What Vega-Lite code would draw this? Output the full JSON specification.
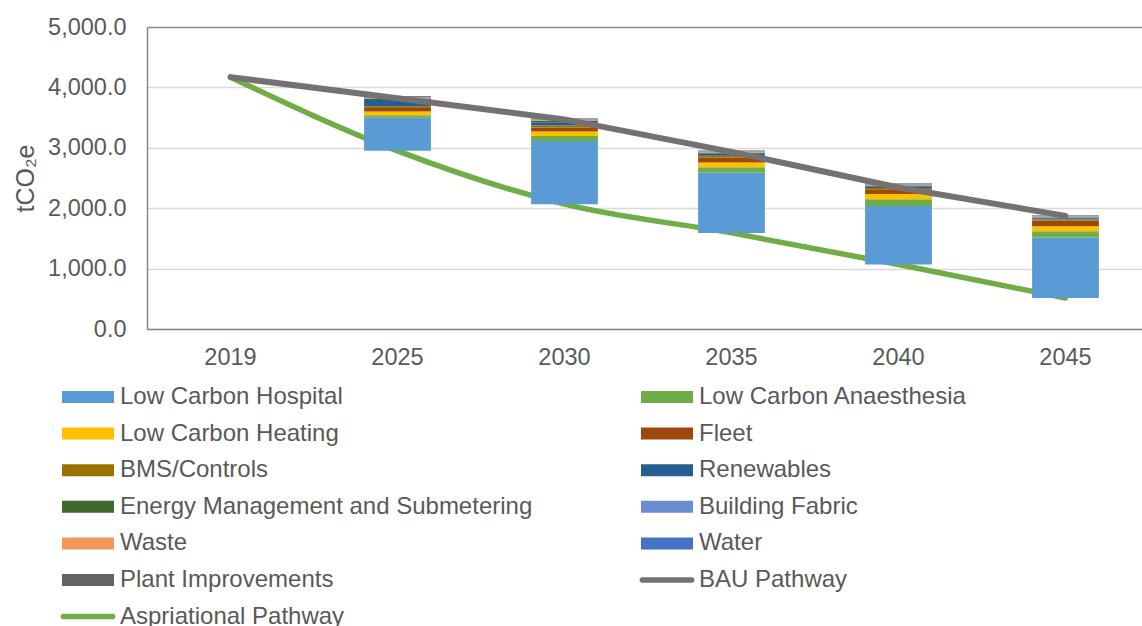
{
  "$schema": "https://vega.github.io/schema/vega-lite/v6.json",
  "autosize": {"type": "none"},
  "padding": {"left": 147, "top": 27, "right": 0, "bottom": 297},
  "width": 995,
  "height": 302,
  "background": "#ffffff",
  "config": {
    "view": {"stroke": null},
    "font": "Liberation Sans",
    "axis": {
      "labelFont": "Liberation Sans",
      "labelFontSize": 23.5,
      "labelColor": "#595959",
      "titleFont": "Liberation Sans",
      "titleFontSize": 25,
      "titleColor": "#595959",
      "titleFontWeight": "normal",
      "ticks": false,
      "domainColor": "#868686",
      "domainWidth": 1.5
    }
  },
  "datasets": {
    "segments": [
      {"year": "2025", "category": "Base", "value": 2950},
      {"year": "2025", "category": "Low Carbon Hospital", "value": 547},
      {"year": "2025", "category": "Low Carbon Anaesthesia", "value": 40},
      {"year": "2025", "category": "Low Carbon Heating", "value": 66},
      {"year": "2025", "category": "Fleet", "value": 55},
      {"year": "2025", "category": "BMS/Controls", "value": 28},
      {"year": "2025", "category": "Renewables", "value": 105},
      {"year": "2025", "category": "Energy Management and Submetering", "value": 17},
      {"year": "2025", "category": "Building Fabric", "value": 12},
      {"year": "2025", "category": "Waste", "value": 12},
      {"year": "2025", "category": "Water", "value": 12},
      {"year": "2025", "category": "Plant Improvements", "value": 12},
      {"year": "2030", "category": "Base", "value": 2067},
      {"year": "2030", "category": "Low Carbon Hospital", "value": 1044},
      {"year": "2030", "category": "Low Carbon Anaesthesia", "value": 83},
      {"year": "2030", "category": "Low Carbon Heating", "value": 77},
      {"year": "2030", "category": "Fleet", "value": 66},
      {"year": "2030", "category": "BMS/Controls", "value": 33},
      {"year": "2030", "category": "Renewables", "value": 55},
      {"year": "2030", "category": "Energy Management and Submetering", "value": 22},
      {"year": "2030", "category": "Building Fabric", "value": 11},
      {"year": "2030", "category": "Waste", "value": 11},
      {"year": "2030", "category": "Water", "value": 11},
      {"year": "2030", "category": "Plant Improvements", "value": 11},
      {"year": "2035", "category": "Base", "value": 1591},
      {"year": "2035", "category": "Low Carbon Hospital", "value": 1001},
      {"year": "2035", "category": "Low Carbon Anaesthesia", "value": 88},
      {"year": "2035", "category": "Low Carbon Heating", "value": 77},
      {"year": "2035", "category": "Fleet", "value": 77},
      {"year": "2035", "category": "BMS/Controls", "value": 33},
      {"year": "2035", "category": "Renewables", "value": 33},
      {"year": "2035", "category": "Energy Management and Submetering", "value": 17},
      {"year": "2035", "category": "Building Fabric", "value": 10},
      {"year": "2035", "category": "Waste", "value": 10},
      {"year": "2035", "category": "Water", "value": 9},
      {"year": "2035", "category": "Plant Improvements", "value": 10},
      {"year": "2040", "category": "Base", "value": 1067},
      {"year": "2040", "category": "Low Carbon Hospital", "value": 971},
      {"year": "2040", "category": "Low Carbon Anaesthesia", "value": 110},
      {"year": "2040", "category": "Low Carbon Heating", "value": 88},
      {"year": "2040", "category": "Fleet", "value": 77},
      {"year": "2040", "category": "BMS/Controls", "value": 22},
      {"year": "2040", "category": "Renewables", "value": 22},
      {"year": "2040", "category": "Energy Management and Submetering", "value": 11},
      {"year": "2040", "category": "Building Fabric", "value": 11},
      {"year": "2040", "category": "Waste", "value": 15},
      {"year": "2040", "category": "Water", "value": 11},
      {"year": "2040", "category": "Plant Improvements", "value": 10},
      {"year": "2045", "category": "Base", "value": 514},
      {"year": "2045", "category": "Low Carbon Hospital", "value": 1001},
      {"year": "2045", "category": "Low Carbon Anaesthesia", "value": 105},
      {"year": "2045", "category": "Low Carbon Heating", "value": 83},
      {"year": "2045", "category": "Fleet", "value": 88},
      {"year": "2045", "category": "BMS/Controls", "value": 22},
      {"year": "2045", "category": "Renewables", "value": 20},
      {"year": "2045", "category": "Energy Management and Submetering", "value": 10},
      {"year": "2045", "category": "Building Fabric", "value": 10},
      {"year": "2045", "category": "Waste", "value": 12},
      {"year": "2045", "category": "Water", "value": 10},
      {"year": "2045", "category": "Plant Improvements", "value": 10}
    ],
    "pathways": [
      {"year": "2019", "series": "BAU Pathway", "value": 4170},
      {"year": "2025", "series": "BAU Pathway", "value": 3820},
      {"year": "2030", "series": "BAU Pathway", "value": 3470},
      {"year": "2035", "series": "BAU Pathway", "value": 2933},
      {"year": "2040", "series": "BAU Pathway", "value": 2343},
      {"year": "2045", "series": "BAU Pathway", "value": 1873},
      {"year": "2019", "series": "Aspriational Pathway", "value": 4170},
      {"year": "2025", "series": "Aspriational Pathway", "value": 2950},
      {"year": "2030", "series": "Aspriational Pathway", "value": 2067},
      {"year": "2035", "series": "Aspriational Pathway", "value": 1591},
      {"year": "2040", "series": "Aspriational Pathway", "value": 1067},
      {"year": "2045", "series": "Aspriational Pathway", "value": 514}
    ]
  },
  "encoding": {
    "x": {
      "field": "year",
      "type": "ordinal",
      "scale": {
        "domain": ["2019", "2025", "2030", "2035", "2040", "2045"],
        "range": [0, 1002],
        "paddingInner": 0.6,
        "paddingOuter": 0.3
      },
      "axis": {"title": null, "labelAngle": 0, "labelPadding": 16, "grid": false}
    }
  },
  "layer": [
    {
      "data": {"name": "pathways"},
      "transform": [{"filter": "datum.series === 'Aspriational Pathway'"}],
      "mark": {"type": "line", "strokeWidth": 5.5, "strokeCap": "round", "strokeJoin": "round", "interpolate": "monotone"},
      "encoding": {
        "y": {
          "field": "value",
          "type": "quantitative",
          "scale": {"domain": [0, 5000], "nice": false},
          "axis": {
            "title": "tCO₂e",
            "titlePadding": 9,
            "values": [0, 1000, 2000, 3000, 4000, 5000],
            "format": ",.1f",
            "labelPadding": 21,
            "grid": true,
            "gridColor": {"condition": {"test": "datum.value === 5000", "value": "#898989"}, "value": "#D9D9D9"},
            "gridWidth": 1.5
          }
        },
        "color": {"field": "series", "type": "nominal"}
      }
    },
    {
      "data": {"name": "segments"},
      "transform": [
        {"calculate": "indexof(['Base','Low Carbon Hospital','Low Carbon Anaesthesia','Low Carbon Heating','Fleet','BMS/Controls','Renewables','Energy Management and Submetering','Building Fabric','Waste','Water','Plant Improvements'], datum.category)", "as": "rank"},
        {"stack": "value", "groupby": ["year"], "sort": [{"field": "rank", "order": "ascending"}], "as": ["v0", "v1"]},
        {"filter": "datum.category !== 'Base'"}
      ],
      "mark": {"type": "bar"},
      "encoding": {
        "y": {"field": "v1", "type": "quantitative"},
        "y2": {"field": "v0"},
        "color": {
          "field": "category",
          "type": "nominal",
          "scale": {
            "domain": ["Low Carbon Hospital", "Low Carbon Anaesthesia", "Low Carbon Heating", "Fleet", "BMS/Controls", "Renewables", "Energy Management and Submetering", "Building Fabric", "Waste", "Water", "Plant Improvements", "BAU Pathway", "Aspriational Pathway"],
            "range": ["#5B9BD5", "#70AD47", "#FFC000", "#9E480E", "#997300", "#255E91", "#43682B", "#698ED0", "#F1975A", "#4472C4", "#636363", "#767171", "#70AD47"]
          },
          "legend": {
            "title": null,
            "orient": "none",
            "direction": "horizontal",
            "legendX": -71,
            "legendY": 358,
            "columns": 2,
            "columnPadding": 106,
            "rowPadding": 12.6,
            "padding": 0,
            "labelFont": "Liberation Sans",
            "labelFontSize": 24,
            "labelColor": "#595959",
            "labelLimit": 600,
            "labelOffset": 20,
            "symbolSize": 529,
            "encode": {
              "symbols": {
                "update": {
                  "shape": {"signal": "indexof(datum.value, 'Pathway') >= 0 ? 'M-2.15,-0.24H2.15A0.24,0.24 0 0 1 2.15,0.24H-2.15A0.24,0.24 0 0 1 -2.15,-0.24Z' : 'M-2.26,-0.52H2.26V0.52H-2.26Z'"},
                  "fill": {"scale": "color", "field": "value"},
                  "stroke": {"value": "transparent"},
                  "strokeWidth": {"value": 0},
                  "opacity": {"value": 1},
                  "fillOpacity": {"value": 1}
                }
              }
            }
          }
        }
      }
    },
    {
      "data": {"name": "pathways"},
      "transform": [{"filter": "datum.series === 'BAU Pathway'"}],
      "mark": {"type": "line", "strokeWidth": 6, "strokeCap": "round", "strokeJoin": "round"},
      "encoding": {
        "y": {"field": "value", "type": "quantitative"},
        "color": {"field": "series", "type": "nominal"}
      }
    }
  ],
  "resolve": {"scale": {"color": "shared"}}
}
